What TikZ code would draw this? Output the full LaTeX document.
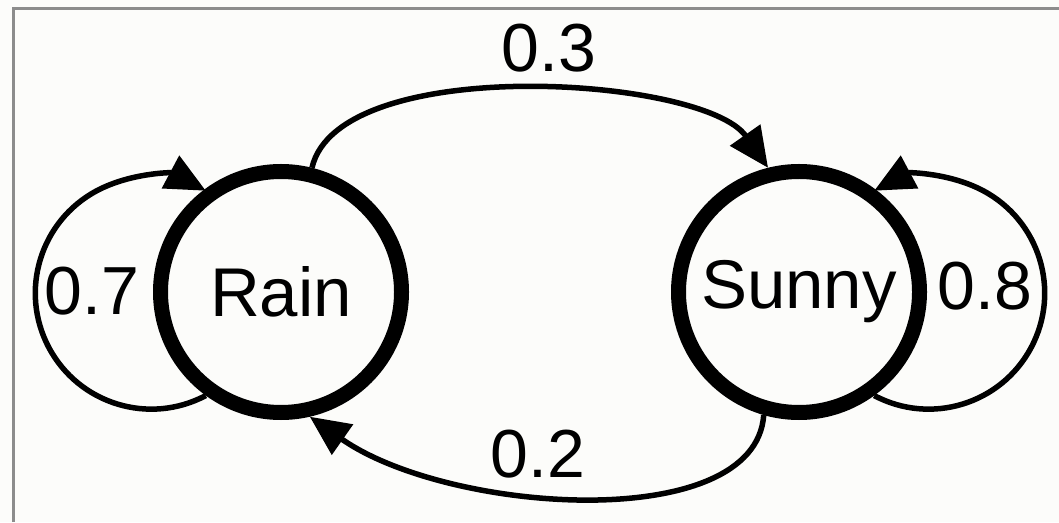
\documentclass[tikz,border=0pt]{standalone}
\usepackage{fontspec}
\setmainfont{Liberation Sans}
\usetikzlibrary{arrows.meta}
\definecolor{bg}{HTML}{FCFCFA}
\definecolor{framegray}{HTML}{8C8C8C}
\tikzset{
  state/.style={circle, draw=black, line width=15pt, minimum size=241pt, inner sep=0pt, font=\fontsize{69}{80}\selectfont},
  edge/.style={draw=black, line width=5.5pt, -{Triangle[length=40pt,width=36pt]}},
  lbl/.style={inner sep=0pt, font=\fontsize{68}{80}\selectfont},
}
\begin{document}
\begin{tikzpicture}[x=1pt,y=1pt]
\useasboundingbox (0,0) rectangle (1059,522);
\fill[bg] (0,0) rectangle (1059,522);
\draw[framegray, line width=3pt] (13.5,0) -- (13.5,513.5) -- (1059,513.5);

\node[state] (rain) at (281,230) {Rain};
\node[state] (sunny) at (799,230) {Sunny};

% self loops
\draw[edge] (rain.234) arc[start angle=-62, end angle=-298, radius=116];
\draw[edge] (sunny.306) arc[start angle=242, end angle=478, radius=116];

% transitions
\draw[edge] (rain.76) .. controls +(77:118) and +(125:112) .. (sunny.104);
\draw[edge] (sunny.254) .. controls +(266:120) and +(-35:170) .. (rain.283);

% labels
\node[lbl, anchor=base] (p03) at (549,450) {0.3};
\node[lbl, anchor=base] (p02) at (538,45) {0.2};
\node[lbl, anchor=base] (p07) at (92,207) {0.7};
\node[lbl, anchor=base] (p08) at (985,212) {0.8};
\end{tikzpicture}
\end{document}
